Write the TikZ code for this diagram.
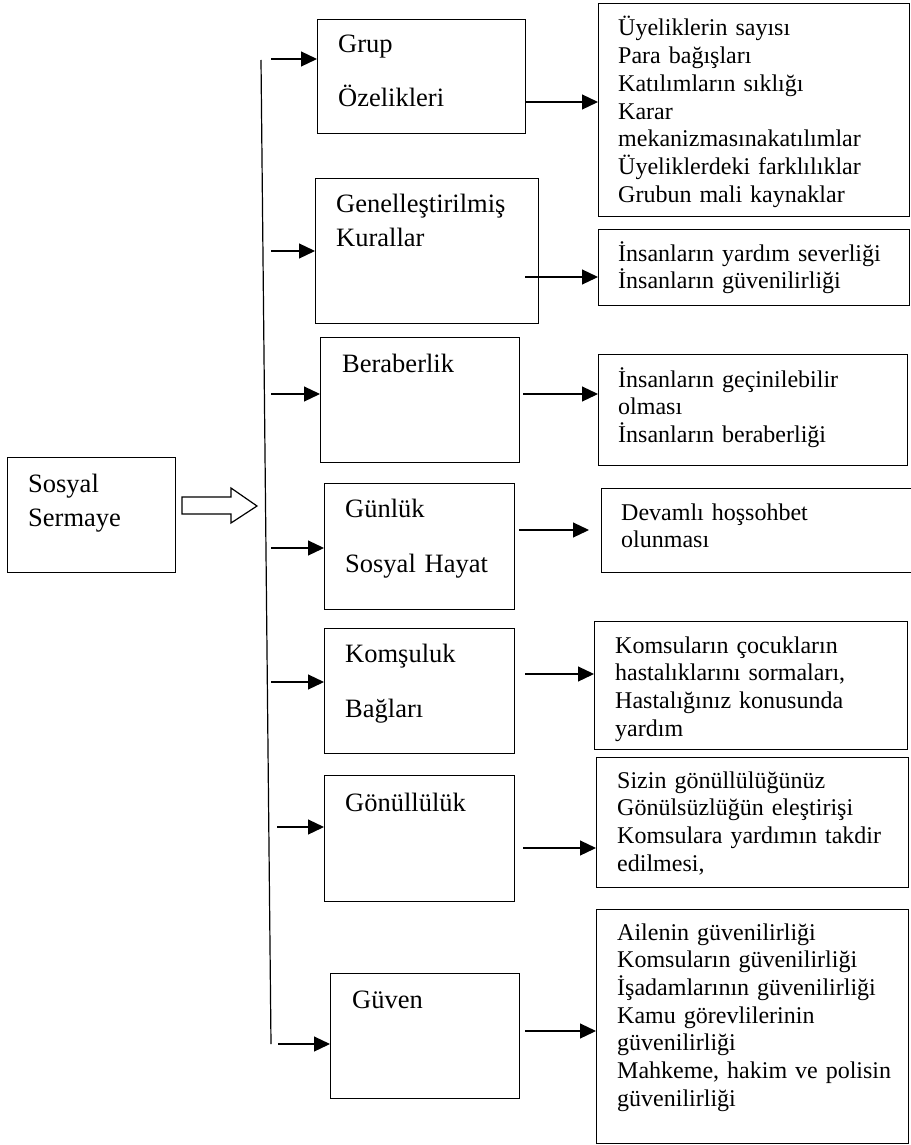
\documentclass[tikz,border=0pt]{standalone}
\usepackage{fontspec}
\setmainfont{Liberation Serif}
\usetikzlibrary{arrows.meta}

\begin{document}
\begin{tikzpicture}[x=1pt, y=-1pt,
          box/.style={rectangle, draw, line width=1.2pt, anchor=north west, inner sep=0pt},
          head/.style={anchor=base west, inner sep=0pt, align=left, text width=200pt,
                       font=\fontsize{26.5}{34}\selectfont},
          item/.style={anchor=base west, inner sep=0pt, align=left, text width=290pt,
                       font=\fontsize{24}{27.7}\selectfont},
          arr/.style={-{Triangle[length=16pt, width=15pt]}, line width=1.2pt}
        ]
        \useasboundingbox (0,0) rectangle (910,1145);

        % Sosyal sermaye
        \node[box, minimum width=168, minimum height=115] (sos) at (7,457) {};
        \node[head] (sos-t) at (28,492) {Sosyal\\Sermaye};
        \draw[line width=1.2pt] (182,497) -- (231,497) -- (231,488) -- (257,506)
              -- (231,523) -- (231,514) -- (182,514) -- cycle;

        % Main line
        \coordinate (ltop) at (261,60);
        \coordinate (lbot) at (271,1044);
        \draw[line width=1.2pt] (ltop) -- (lbot);

        % Dimensions
        \node[box, minimum width=208, minimum height=114] (grup) at (317,19) {};
        \node[head] (grup-t) at (338,53) {Grup\\[20pt]Özelikleri};
        \node[box, minimum width=223, minimum height=145] (genel) at (315,178) {};
        \node[head] (genel-t) at (336,212) {Genelleştirilmiş\\Kurallar};
        \node[box, minimum width=199, minimum height=125] (berab) at (320,337) {};
        \node[head] (berab-t) at (342,372) {Beraberlik};
        \node[box, minimum width=190, minimum height=126] (gunluk) at (324,483) {};
        \node[head] (gunluk-t) at (345,517) {Günlük\\[21pt]Sosyal Hayat};
        \node[box, minimum width=190, minimum height=125] (komsu) at (324,628) {};
        \node[head] (komsu-t) at (345,662) {Komşuluk\\[21pt]Bağları};
        \node[box, minimum width=190, minimum height=126] (gonul) at (324,775) {};
        \node[head] (gonul-t) at (345,811) {Gönüllülük};
        \node[box, minimum width=189, minimum height=125] (guven) at (330,973) {};
        \node[head] (guven-t) at (352,1008) {Güven};

        % Arrows from the main line
        \coordinate (s1) at (271,59);
        \coordinate (s2) at (271,251);
        \coordinate (s3) at (271,394);
        \coordinate (s4) at (271,548);
        \coordinate (s5) at (271,682);
        \coordinate (s6) at (277,827);
        \coordinate (s7) at (278,1044);
        \draw[arr] (s1) -- (s1 -| grup.west);
        \draw[arr] (s2) -- (s2 -| genel.west);
        \draw[arr] (s3) -- (s3 -| berab.west);
        \draw[arr] (s4) -- (s4 -| gunluk.west);
        \draw[arr] (s5) -- (s5 -| komsu.west);
        \draw[arr] (s6) -- (s6 -| gonul.west);
        \draw[arr] (s7) -- (s7 -| guven.west);

        % Indicators
        \node[box, minimum width=311, minimum height=213] (uye) at (598,3) {};
        \node[item] (uye-t) at (618,36) {Üyeliklerin sayısı\\Para bağışları\\Katılımların sıklığı\\Karar\\mekanizmasınakatılımlar\\Üyeliklerdeki farklılıklar\\Grubun mali kaynaklar};
        \node[box, minimum width=311, minimum height=76] (yard) at (598,229) {};
        \node[item] (yard-t) at (618,261) {İnsanların yardım severliği\\İnsanların güvenilirliği};
        \node[box, minimum width=309, minimum height=111] (gecin) at (598,354) {};
        \node[item] (gecin-t) at (618,387) {İnsanların geçinilebilir\\olması\\İnsanların beraberliği};
        \node[box, minimum width=311, minimum height=84] (sohbet) at (601,488) {};
        \node[item] (sohbet-t) at (621,520) {Devamlı hoşsohbet\\olunması};
        \node[box, minimum width=313, minimum height=128] (cocuk) at (594,621) {};
        \node[item] (cocuk-t) at (615,653) {Komsuların çocukların\\hastalıklarını sormaları,\\Hastalığınız konusunda\\yardım};
        \node[box, minimum width=312, minimum height=130] (sizin) at (596,757) {};
        \node[item] (sizin-t) at (617,788) {Sizin gönüllülüğünüz\\Gönülsüzlüğün eleştirişi\\Komsulara yardımın takdir\\edilmesi,};
        \node[box, minimum width=312, minimum height=234] (aile) at (596,909) {};
        \node[item] (aile-t) at (617,940) {Ailenin güvenilirliği\\Komsuların güvenilirliği\\İşadamlarının güvenilirliği\\Kamu görevlilerinin\\güvenilirliği\\Mahkeme, hakim ve polisin\\güvenilirliği};

        % Arrows to indicators
        \coordinate (d1) at (525,102);
        \coordinate (d2) at (525,277);
        \coordinate (d3) at (523,394);
        \coordinate (d4) at (519,530);
        \coordinate (d5) at (525,674);
        \coordinate (d6) at (523,848);
        \coordinate (d7) at (525,1031);
        \draw[arr] (d1) -- (d1 -| uye.west);
        \draw[arr] (d2) -- (d2 -| yard.west);
        \draw[arr] (d3) -- (d3 -| gecin.west);
        \draw[arr] (d4) -- ([xshift=-12pt]d4 -| sohbet.west);
        \draw[arr] (d5) -- (d5 -| cocuk.west);
        \draw[arr] (d6) -- (d6 -| sizin.west);
        \draw[arr] (d7) -- (d7 -| aile.west);
      \end{tikzpicture}
\end{document}
